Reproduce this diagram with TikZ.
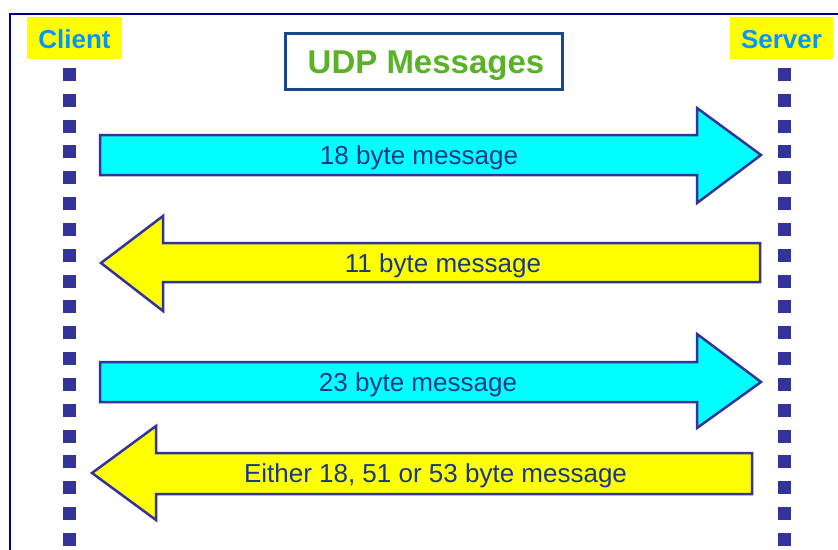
\documentclass[tikz,border=0pt]{standalone}
\usepackage{fontspec}
\setmainfont{Liberation Sans}
\definecolor{frameblue}{RGB}{0,0,128}
\definecolor{dotblue}{RGB}{51,51,153}
\definecolor{outl}{RGB}{51,51,153}
\definecolor{txtblue}{RGB}{25,55,135}
\definecolor{lblblue}{RGB}{0,150,255}
\definecolor{titlegreen}{RGB}{90,178,40}
\definecolor{titlebox}{RGB}{25,70,140}
\definecolor{cyanfill}{RGB}{0,255,255}
\definecolor{yelfill}{RGB}{255,255,0}
\begin{document}
\begin{tikzpicture}[x=1pt,y=-1pt,
  msg/.style={text=txtblue,font=\fontsize{26}{30}\selectfont,inner sep=0pt,anchor=base},
  lbl/.style={text=lblblue,font=\fontsize{26}{30}\selectfont\bfseries,inner sep=0pt,anchor=base},
  blockarrow/.style={draw=outl,line width=2.5pt,line join=miter},
  lifedot/.style={fill=dotblue}]
\clip (0,0) rectangle (838,549);
\fill[white] (0,0) rectangle (838,549);
% frame
\draw[frameblue,line width=2pt] (9.5,13.5) rectangle (900,600);
% labels
\fill[yelfill] (27,17) rectangle (122,59);
\node[lbl] (client) at (74.5,48) {Client};
\fill[yelfill] (730,17) rectangle (833,59);
\node[lbl] (server) at (781.5,48) {Server};
% title
\draw[titlebox,line width=2.5pt] (285.5,33.5) rectangle (562.5,89.5);
\node[inner sep=0pt,anchor=base,text=titlegreen,font=\fontsize{33}{36}\selectfont\bfseries] (title) at (426,73) {UDP Messages};
% lifelines
\foreach \n in {0,...,19}{
  \fill[lifedot] (62.5,{68+25.83*\n}) rectangle ++(13,13);
  \fill[lifedot] (777.5,{68+25.83*\n}) rectangle ++(13,13);
}
% arrow 1 (client -> server)
\draw[blockarrow,fill=cyanfill] (100,135) -- (697,135) -- (697,108) -- (761,155) -- (697,203) -- (697,175) -- (100,175) -- cycle;
\node[msg] (m1) at (419,164) {18 byte message};
% arrow 2 (server -> client)
\draw[blockarrow,fill=yelfill] (760,243) -- (163,243) -- (163,216) -- (101,263) -- (163,311) -- (163,282) -- (760,282) -- cycle;
\node[msg] (m2) at (443,272) {11 byte message};
% arrow 3
\draw[blockarrow,fill=cyanfill] (100,362) -- (697,362) -- (697,334) -- (761,382) -- (697,428) -- (697,402) -- (100,402) -- cycle;
\node[msg] (m3) at (418,391) {23 byte message};
% arrow 4
\draw[blockarrow,fill=yelfill] (752,453) -- (156,453) -- (156,426) -- (92,473) -- (156,520) -- (156,494) -- (752,494) -- cycle;
\node[msg] (m4) at (435.5,482) {Either 18, 51 or 53 byte message};
\end{tikzpicture}
\end{document}
